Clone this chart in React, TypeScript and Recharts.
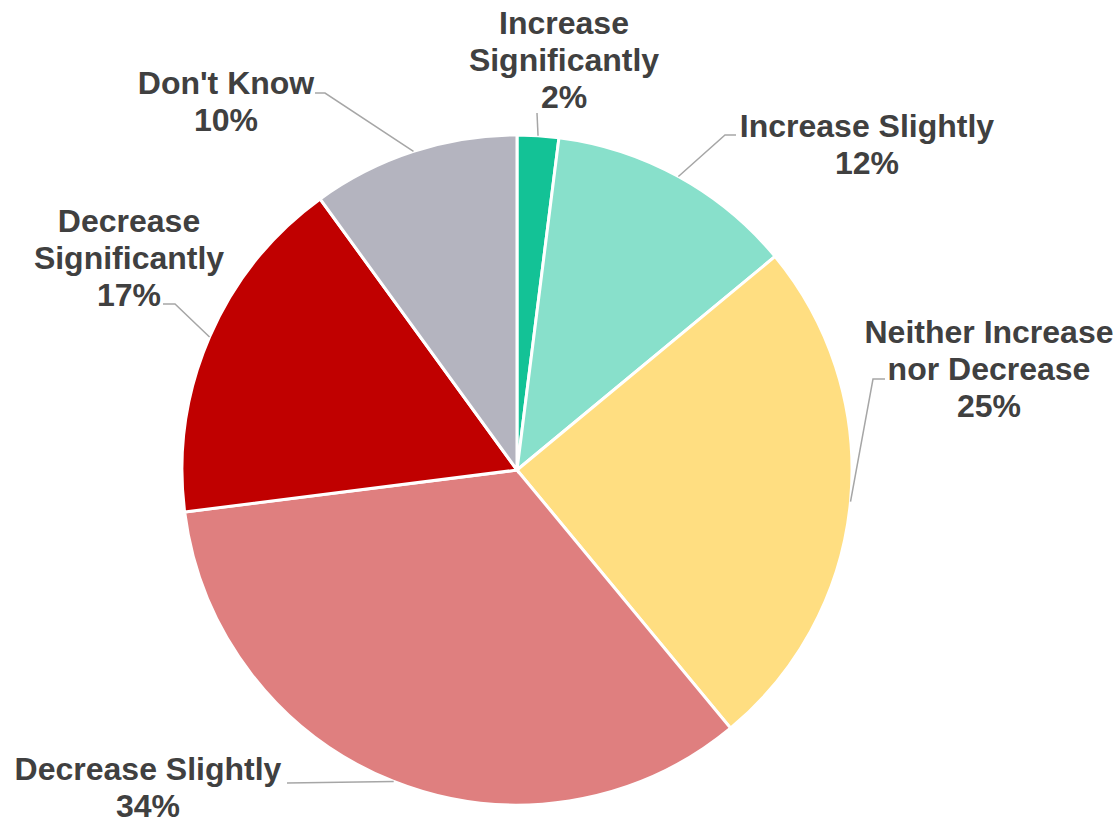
import { PieChart, Pie, Cell } from 'recharts'

const categories = [
  'Increase Significantly',
  'Increase Slightly',
  'Neither Increase nor Decrease',
  'Decrease Slightly',
  'Decrease Significantly',
  "Don't Know",
]
const shares = [2, 12, 25, 34, 17, 10]
// label text as it is wrapped in the chart
const labelLines = [
  ['Increase', 'Significantly'],
  ['Increase Slightly'],
  ['Neither Increase', 'nor Decrease'],
  ['Decrease Slightly'],
  ['Decrease', 'Significantly'],
  ["Don't Know"],
]

const COLORS = ['#13C296', '#88E0CB', '#FFDE81', '#DF7F7F', '#C00000', '#B4B4BF']

// hand-placed labels, offsets from the pie centre: text centre, leader end, hook length
const LABEL_LAYOUT = [
  { tx: 47, ty: -410, ex: 20, ey: -357, hook: 0 },
  { tx: 350, ty: -326, ex: 219, ey: -335, hook: -11 },
  { tx: 472, ty: -101, ex: 368, ey: -91, hook: -12 },
  { tx: -369, ty: 317, ex: -230, ey: 313, hook: 0 },
  { tx: -388, ty: -212, ex: -354, ey: -166, hook: 12 },
  { tx: -291, ty: -369, ex: -202, ey: -377, hook: 10 },
]

const data = categories.map((name, i) => ({ name, value: shares[i] }))

const RAD = Math.PI / 180
const FONT = 32
const LINE_H = 37

function renderLabel(props: any) {
  const { cx, cy, midAngle, outerRadius, index } = props
  const lay = LABEL_LAYOUT[index]
  const lines = [...labelLines[index], `${shares[index]}%`]
  const sx = cx + outerRadius * Math.cos(-midAngle * RAD)
  const sy = cy + outerRadius * Math.sin(-midAngle * RAD)
  const endX = cx + lay.ex
  const endY = cy + lay.ey
  const elbowX = endX + lay.hook
  const tx = cx + lay.tx
  const ty = cy + lay.ty - ((lines.length - 1) * LINE_H) / 2
  return (
    <g key={`lbl-${index}`}>
      <polyline
        points={`${sx},${sy} ${elbowX},${endY} ${endX},${endY}`}
        fill="none"
        stroke="#A6A6A6"
        strokeWidth={1.5}
      />
      <text
        x={tx}
        y={ty}
        textAnchor="middle"
        dominantBaseline="central"
        fill="#404040"
        fontSize={FONT}
        fontWeight="bold"
        fontFamily="'Liberation Sans', Arial, sans-serif"
      >
        {lines.map((l, i) => (
          <tspan key={i} x={tx} dy={i === 0 ? 0 : LINE_H}>{l}</tspan>
        ))}
      </text>
    </g>
  )
}

export default function App() {
  return (
    <div style={{ position: 'absolute', left: 0, top: 0, width: 1119, height: 823, background: '#fff' }}>
      <PieChart width={1119} height={823} margin={{ top: 0, right: 0, bottom: 0, left: 0 }}>
        <Pie
          data={data}
          dataKey="value"
          nameKey="name"
          cx={517}
          cy={470}
          outerRadius={335}
          startAngle={90}
          endAngle={-270}
          stroke="#fff"
          strokeWidth={3}
          label={renderLabel}
          labelLine={false}
          isAnimationActive={false}
        >
          {data.map((d, i) => (
            <Cell key={d.name} fill={COLORS[i]} />
          ))}
        </Pie>
      </PieChart>
    </div>
  )
}
